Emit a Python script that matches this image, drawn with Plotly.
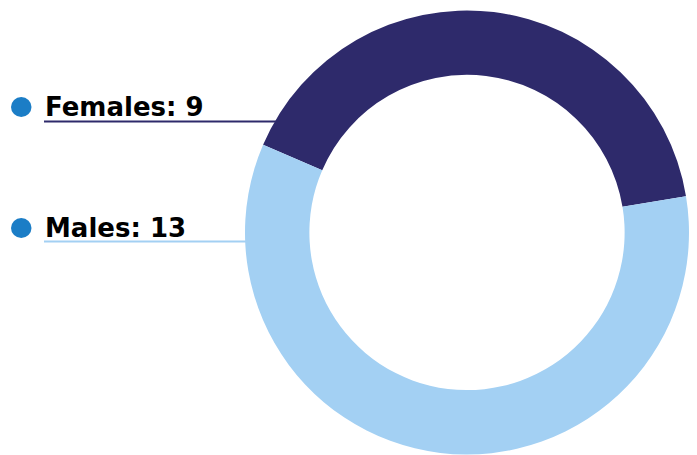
import plotly.graph_objects as go

labels = ["Females", "Males"]
values = [9, 13]
colors = ["#2E2A6B", "#A3D0F3"]
dot_color = "#1B7DC6"

W, H = 697, 455
OFF = 8  # default page body margin


def px(x):
    return (x - OFF) / W


def py(y):
    return 1 - (y - OFF) / H


fig = go.Figure(go.Pie(
    labels=labels, values=values, sort=False, direction="clockwise",
    rotation=-66.7, hole=0.71,
    marker=dict(colors=colors, line=dict(width=0)),
    textinfo="none", hoverinfo="label+value",
    domain=dict(x=[px(245), px(689)], y=[py(455), py(10)]),
    showlegend=False,
))

rows = [(107, 121.5, 277), (228, 241.5, 246)]
shapes = []
annotations = []
for (label, val, col), (cy, ly, lx2) in zip(zip(labels, values, colors), rows):
    shapes.append(dict(type="circle", xref="paper", yref="paper",
                       x0=px(11), x1=px(31.5), y0=py(cy + 10), y1=py(cy - 10),
                       fillcolor=dot_color, line=dict(width=0)))
    shapes.append(dict(type="line", xref="paper", yref="paper",
                       x0=px(44), x1=px(lx2), y0=py(ly), y1=py(ly),
                       line=dict(color=col, width=2)))
    annotations.append(dict(xref="paper", yref="paper", x=px(43), y=py(cy),
                            xanchor="left", yanchor="middle", showarrow=False,
                            text=f"<b>{label}: {val}</b>",
                            font=dict(family="DejaVu Sans", size=26, color="#000000")))

fig.update_layout(width=W, height=H, margin=dict(l=0, r=0, t=0, b=0),
                  paper_bgcolor="white", plot_bgcolor="white",
                  shapes=shapes, annotations=annotations)

fig.write_html("out.html")
